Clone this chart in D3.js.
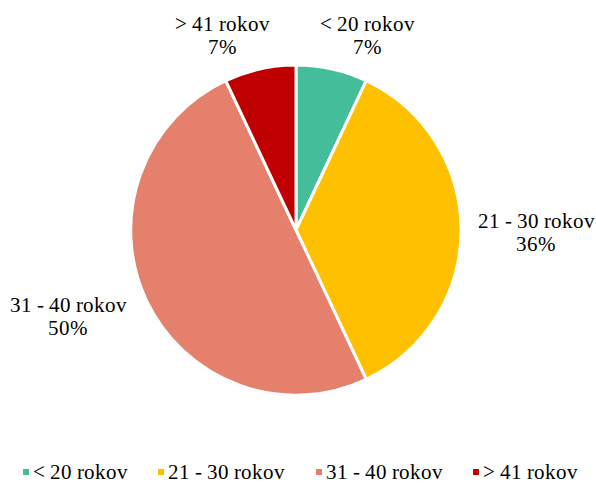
<!DOCTYPE html>
<html>
<head>
<meta charset="utf-8">
<script src="https://cdn.jsdelivr.net/npm/d3@7"></script>
<style>
  @font-face {
    font-family: "ChartSerif";
    src: local("Liberation Serif"), local("LiberationSerif"), local("LiberationSerif-Regular"), local("Times New Roman");
  }
  body { margin: 0; }
</style>
</head>
<body>
<script>
var svgWidth = 596;
var svgHeight = 483;

// data
var categories = ["< 20 rokov", "21 - 30 rokov", "31 - 40 rokov", "> 41 rokov"];
var values = [7, 36, 50, 7];
var colors = ["#43BD9A", "#FFC000", "#E4806B", "#C00000"];

// label anchors: centre x, first-line baseline
var labelPos = [[367, 31], [536, 228], [68, 312], [222, 31]];

var cx = 296, cy = 230, radius = 165;
var fontFam = "'ChartSerif', 'Liberation Serif', 'Times New Roman'";

var svg = d3.select("body")
    .append("svg")
    .attr("width", svgWidth)
    .attr("height", svgHeight);

var pieData = d3.pie().sort(null).value(d => d)(values);

var arc = d3.arc().innerRadius(0).outerRadius(radius);

var pieGroup = svg.append("g")
    .attr("transform", `translate(${cx}, ${cy})`);

pieGroup.selectAll("path")
    .data(pieData)
    .enter()
    .append("path")
    .attr("d", arc)
    .attr("fill", (d, i) => colors[i])
    .attr("stroke", "#fff")
    .attr("stroke-width", 3)
    .attr("stroke-linejoin", "round");

// Data labels: two separate lines per slice
var lines = [];
pieData.forEach(function (d, i) {
    lines.push({ text: categories[i], x: labelPos[i][0], y: labelPos[i][1] });
    lines.push({ text: d.data + "%", x: labelPos[i][0], y: labelPos[i][1] + 23 });
});

svg.selectAll(".slice-label")
    .data(lines)
    .enter()
    .append("text")
    .attr("class", "slice-label")
    .attr("x", d => d.x)
    .attr("y", d => d.y)
    .attr("text-anchor", "middle")
    .attr("font-size", "21px")
    .style("font-family", fontFam)
    .text(d => d.text);

// Legend
var legendX = [23, 158, 316, 473];

svg.selectAll(".legend-box")
    .data(categories)
    .enter()
    .append("rect")
    .attr("class", "legend-box")
    .attr("x", (d, i) => legendX[i])
    .attr("y", 469)
    .attr("width", 6)
    .attr("height", 6)
    .attr("fill", (d, i) => colors[i]);

svg.selectAll(".legend-text")
    .data(categories)
    .enter()
    .append("text")
    .attr("class", "legend-text")
    .attr("x", (d, i) => legendX[i] + 10)
    .attr("y", 479)
    .attr("font-size", "21px")
    .style("font-family", fontFam)
    .text(d => d);
</script>
</body>
</html>
